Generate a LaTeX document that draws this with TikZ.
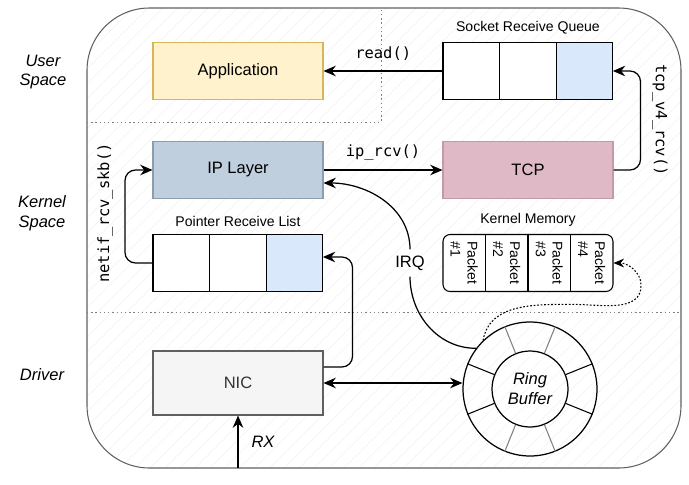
\documentclass[tikz,border=0pt]{standalone}
\usepackage{fontspec}
\setmainfont{Liberation Sans}
\setmonofont{DejaVu Sans Mono}
\usetikzlibrary{arrows.meta, positioning, calc, patterns.meta}
\definecolor{appfill}{HTML}{FFF2CC}
\definecolor{appdraw}{HTML}{D6B656}
\definecolor{ipfill}{HTML}{C0CFDD}
\definecolor{ipdraw}{HTML}{8C9DB0}
\definecolor{tcpfill}{HTML}{DFBAC6}
\definecolor{tcpdraw}{HTML}{C29AA8}
\definecolor{qblue}{HTML}{DAE8FC}

\begin{document}
\begin{tikzpicture}[
x=0.02cm, y=-0.02cm,
font=\fontsize{9.4}{11.3}\selectfont,
box/.style={draw, minimum width=3.4cm, minimum height=1.14cm, inner sep=0pt, line width=0.6pt},
cell/.style={draw, fill=white, minimum width=1.133cm, minimum height=1.14cm, inner sep=0pt, outer sep=0pt, line width=0.6pt},
title/.style={font=\fontsize{8}{9.6}\selectfont},
func/.style={font=\ttfamily\fontsize{8.8}{10.5}\selectfont},
region/.style={font=\fontsize{9.4}{11.3}\selectfont\itshape, align=center},
arrow/.style={-{Stealth[length=7pt, width=6pt]}, line width=0.7pt},
dotarrow/.style={-{Stealth[length=6pt, width=5pt]}, line width=0.6pt, dash pattern=on 1pt off 1pt}
]
\useasboundingbox (0,0) rectangle (689,484);

% outer area and the three spaces
\draw[draw=gray!75!black, line width=0.6pt, rounded corners=1.25cm,
  pattern={Lines[angle=45, distance=6pt, line width=0.3pt]}, pattern color=black!6]
  (87,8) rectangle (681,468);
\draw[gray, dash pattern=on 0.8pt off 1.6pt] (87,122) -| (381,8);
\draw[gray, dash pattern=on 0.8pt off 1.6pt] (87,312) -- (681,312);

\node[region] (user) at (43,72) {User\\Space};
\node[region] (kernel) at (42,213) {Kernel\\Space};
\node[region] (driver) at (42,375) {Driver};

% user space
\node[box, fill=appfill, draw=appdraw] (app) at (238,71) {Application};

\node[cell] (sq1) at (471.3,71) {};
\node[cell, right=0pt of sq1] (sq2) {};
\node[cell, fill=qblue, right=0pt of sq2] (sq3) {};
\node[title, above=1pt of sq2] (sqtitle) {Socket Receive Queue};

% kernel space
\node[box, fill=ipfill, draw=ipdraw] (ip) at (238,170) {IP Layer};
\node[box, fill=tcpfill, draw=tcpdraw] (tcp) at (528,170) {TCP};

\node[cell] (pl1) at (181.3,263) {};
\node[cell, right=0pt of pl1] (pl2) {};
\node[cell, fill=qblue, right=0pt of pl2] (pl3) {};
\node[title, above=1pt of pl2] (pltitle) {Pointer Receive List};

\node[box, fill=white, draw=black, rounded corners=4pt] (km) at (528,263) {};
\node[title, above=1pt of km] (kmtitle) {Kernel Memory};
\foreach \i in {1,...,4} {
  \node[title, rotate=-90, align=left] (pk\i) at ({443+42.5*\i-21.25},263) {Packet\\\#\i};
}
\foreach \i in {1,2,3} {
  \draw[line width=0.6pt] ($(km.north west)!\i/4!(km.north east)$) -- ($(km.south west)!\i/4!(km.south east)$);
}

% driver
\node[box, fill=black!4, draw=gray!75!black, text=black!80, minimum height=1.28cm] (nic) at (238,383) {NIC};

\node[circle, draw, line width=0.7pt, minimum size=2.68cm] (ring) at (530,389) {};
\node[circle, draw, line width=0.7pt, minimum size=1.52cm, inner sep=0pt, align=center,
  font=\fontsize{9.4}{11.3}\selectfont\itshape] (rbuf) at (ring) {Ring\\Buffer};
\foreach \a in {22,158,202,338} \draw[line width=0.6pt] (ring.\a) -- (rbuf.\a);
\foreach \a in {68,112,248,292} \draw[gray, line width=0.6pt] (ring.\a) -- (rbuf.\a);

% connectors
\draw[arrow] (sq1.west) -- node[func, above=2pt] {read()} (app.east);
\draw[arrow, rounded corners=6pt] (tcp.east) -- ++(27,0) |- (sq3.east);
\node[func, rotate=-90] (tcplbl) at (660,120) {tcp\_v4\_rcv()};

\draw[arrow] (ip.east) -- node[func, above=2pt] {ip\_rcv()} (tcp.west);
\draw[arrow, rounded corners=6pt] (pl1.west) -- ++(-28,0) |- (ip.west);
\node[func, rotate=90] (netiflbl) at (105,213) {netif\_rcv\_skb()};

\draw[arrow, rounded corners=6pt] ($(nic.east)+(0,-16)$) -- ++(29,0) |- ($(pl3.east)+(0,-6)$);
\draw[{Stealth[length=7pt, width=6pt]}-{Stealth[length=7pt, width=6pt]}, line width=0.7pt]
  (nic.east) -- (nic.east -| ring.west);

\coordinate (rxin) at (238,468);
\draw[arrow] (rxin) -- node[right=4pt, font=\fontsize{9.4}{11.3}\selectfont\itshape] {RX} (nic.south);

\node (irq) at (410,263) {IRQ};
\draw[arrow] (ring.143) to[out=180, in=-90] (irq.south)
  (irq.north) to[out=90, in=0] ($(ip.east)+(0,13)$);

\draw[dotarrow] (ring.134) to[out=80, in=180] ++(90,-36) to[out=0, in=-90] ++(68,-19)
  to[out=90, in=0] (km.east);

\end{tikzpicture}
\end{document}
